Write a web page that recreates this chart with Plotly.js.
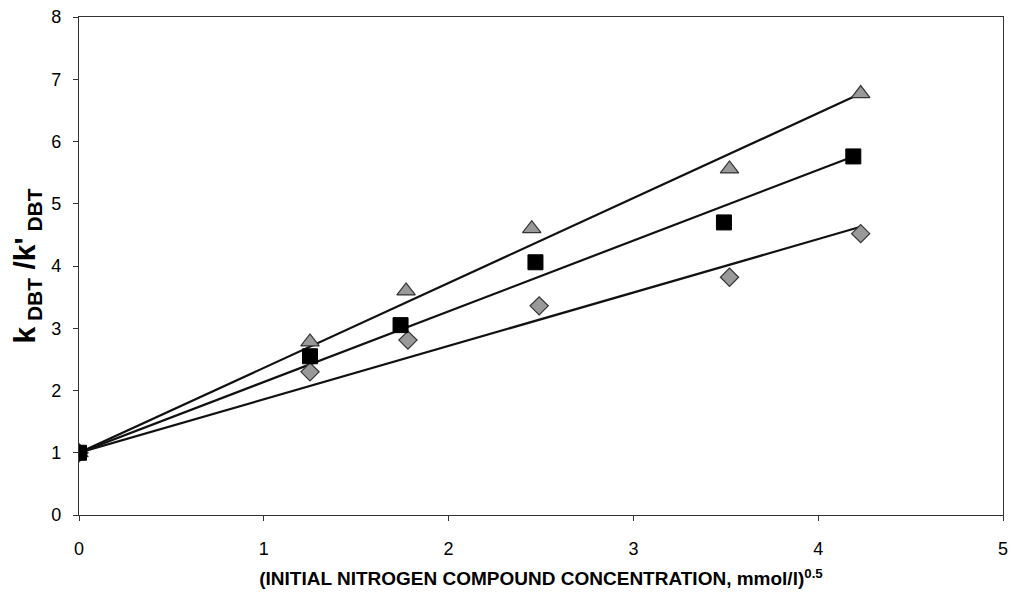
<!DOCTYPE html>
<html>
<head>
<meta charset="utf-8">
<script src="https://cdn.plot.ly/plotly-3.0.1.min.js"></script>
<style>html,body{margin:0;padding:0;background:#fff;}#chart{width:1011px;height:594px;}</style>
</head>
<body>
<div id="chart"></div>
<script>
// Data
const triX = [0, 1.25, 1.77, 2.45, 3.52, 4.23];
const triY = [1, 2.78, 3.60, 4.60, 5.56, 6.77];
const sqX = [0, 1.25, 1.74, 2.47, 3.49, 4.19];
const sqY = [1, 2.55, 3.05, 4.06, 4.70, 5.76];
const diaX = [0, 1.25, 1.78, 2.49, 3.52, 4.23];
const diaY = [1, 2.30, 2.81, 3.36, 3.82, 4.52];
// Fitted straight lines (endpoints)
const triFitX = [0, 4.23], triFitY = [1, 6.77];
const sqFitX = [0, 4.19], sqFitY = [1, 5.76];
const diaFitX = [0, 4.23], diaFitY = [1, 4.63];
const xTicks = [0, 1, 2, 3, 4, 5];
const yTicks = [0, 1, 2, 3, 4, 5, 6, 7, 8];

const lineStyle = {color: '#111', width: 2.2};
const traces = [
  {x: triFitX, y: triFitY, mode: 'lines', line: lineStyle, hoverinfo: 'skip'},
  {x: sqFitX, y: sqFitY, mode: 'lines', line: lineStyle, hoverinfo: 'skip'},
  {x: diaFitX, y: diaFitY, mode: 'lines', line: lineStyle, hoverinfo: 'skip'},
  {x: diaX, y: diaY, mode: 'markers',
   marker: {symbol: 'diamond', size: 14, color: '#999', line: {color: '#333', width: 1.2}}},
  {x: triX, y: triY, mode: 'markers',
   marker: {symbol: 'triangle-up', size: 16, color: '#999', line: {color: '#333', width: 1.2}}},
  {x: sqX, y: sqY, mode: 'markers',
   marker: {symbol: 'square', size: 15, color: '#000', line: {color: '#000', width: 1}}}
];

const layout = {
  width: 1011, height: 594,
  margin: {l: 79, r: 8, t: 17, b: 79},
  showlegend: false,
  paper_bgcolor: '#fff', plot_bgcolor: '#fff',
  font: {family: 'Liberation Sans, Arial, sans-serif', color: '#000', size: 18},
  xaxis: {
    range: [0, 5], tickvals: xTicks, ticktext: xTicks.map(String),
    showgrid: false, zeroline: false, showline: true, mirror: true,
    linecolor: '#333', linewidth: 1.2, ticks: 'outside', ticklen: 5, tickcolor: '#333',
    tickfont: {size: 18}, ticklabelstandoff: 12,
    title: {text: '<b>(INITIAL NITROGEN COMPOUND CONCENTRATION, mmol/l)<sup>0.5</sup></b>',
            font: {family: 'Liberation Sans Narrow, Liberation Sans, Arial, sans-serif', size: 19}, standoff: 14}
  },
  yaxis: {
    range: [0, 8], tickvals: yTicks, ticktext: yTicks.map(String),
    showgrid: false, zeroline: false, showline: true, mirror: true,
    linecolor: '#333', linewidth: 1.2, ticks: 'outside', ticklen: 5, tickcolor: '#333',
    tickfont: {size: 18}, ticklabelstandoff: 8,
    title: {text: "<b>k<sub> DBT</sub> /k'<sub> DBT</sub></b>",
            font: {family: 'Liberation Sans, Arial, sans-serif', size: 30}, standoff: 6}
  }
};
Plotly.newPlot('chart', traces, layout, {staticPlot: true, displayModeBar: false});
</script>
</body>
</html>
